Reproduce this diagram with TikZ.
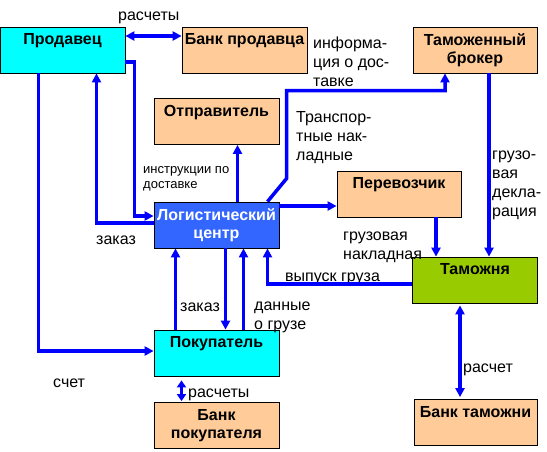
\documentclass[tikz,border=0pt]{standalone}
\usepackage{fontspec}
\setmainfont{Liberation Sans}
\usetikzlibrary{arrows.meta}
\definecolor{boxCyan}{HTML}{00FFFF}
\definecolor{boxPeach}{HTML}{FFCC99}
\definecolor{boxBlue}{HTML}{3366FF}
\definecolor{boxGreen}{HTML}{99CC00}
\definecolor{flowBlue}{HTML}{0000FF}
\tikzset{
  unit/.style={draw=black, line width=0.8pt, minimum width=125pt, minimum height=46pt, inner sep=0pt},
  caption/.style={font=\fontsize{16}{18}\selectfont\bfseries, align=center, anchor=north, inner sep=0pt, yshift=-7pt},
  flow/.style={draw=flowBlue, line width=3.5pt, -{Triangle[length=9pt,width=9pt]}},
  both/.style={flow, {Triangle[length=9pt,width=9pt]}-{Triangle[length=9pt,width=9pt]}},
  shortBoth/.style={flow, {Triangle[length=7pt,width=9pt]}-{Triangle[length=7pt,width=9pt]}},
  note/.style={font=\fontsize{16}{19}\selectfont, align=left, anchor=base west, inner sep=0pt}
}
\begin{document}
\begin{tikzpicture}[x=1pt, y=-1pt]
    \useasboundingbox (0,0) rectangle (547,451);
    \node[unit, fill=boxCyan, label={[caption]north:Продавец}] (seller) at (62.5,50) {};
    \node[unit, fill=boxPeach, label={[caption]north:Банк продавца}] (sellerBank) at (244.5,50) {};
    \node[unit, fill=boxPeach, minimum width=124pt, label={[caption]north:Таможенный\\брокер}] (broker) at (475,50) {};
    \node[unit, fill=boxPeach, label={[caption]north:Отправитель}] (shipper) at (216.5,121.5) {};
    \node[unit, fill=boxBlue, label={[caption, text=white]north:Логистический\\центр}] (logCenter) at (216.5,225) {};
    \node[unit, fill=boxPeach, minimum width=124pt, label={[caption]north:Перевозчик}] (carrier) at (399,194) {};
    \node[unit, fill=boxGreen, label={[caption]north:Таможня}] (customs) at (475,280) {};
    \node[unit, fill=boxCyan, label={[caption]north:Покупатель}] (buyer) at (216.5,353) {};
    \node[unit, fill=boxPeach, label={[caption]north:Банк\\покупателя}] (buyerBank) at (216.5,425.5) {};
    \node[unit, fill=boxPeach, minimum width=123pt, label={[caption]north:Банк таможни}] (customsBank) at (475.5,422.5) {};
    \node[note] (paySeller) at (118,20) {расчеты};
    \node[note] (deliveryInfo) at (313,86) {информа-\\ция о дос-\\тавке};
    \node[note] (waybills) at (296,160) {Транспор-\\тные нак-\\ладные};
    \node[note, font=\fontsize{13}{15}\selectfont] (instructions) at (143,188) {инструкции по\\доставке};
    \node[note] (orderSeller) at (96,244) {заказ};
    \node[note] (cargoWaybill) at (343,259) {грузовая\\накладная};
    \node[note] (declaration) at (492,216) {грузо-\\вая\\декла-\\рация};
    \node[note] (release) at (285,281) {выпуск груза};
    \node[note] (orderBuyer) at (180,311) {заказ};
    \node[note] (cargoData) at (254,329) {данные\\о грузе};
    \node[note] (invoice) at (53,387) {счет};
    \node[note] (payBuyer) at (188,397) {расчеты};
    \node[note] (payCustoms) at (463,372) {расчет};
    \draw[both] ([yshift=14pt]seller.east) -- ([yshift=14pt]sellerBank.west);
    \draw[flow] ([yshift=-12pt]seller.east) -- ++(9,0) |- ([yshift=9pt]logCenter.west);
    \draw[flow] ([yshift=2pt]logCenter.west) -| ([xshift=34pt]seller.south);
    \draw[flow] ([xshift=-24pt]seller.south) |- ([yshift=2pt]buyer.west);
    \draw[flow] ([xshift=21pt]logCenter.north) -- ([xshift=21pt]shipper.south);
    \draw[flow] ([xshift=51pt]logCenter.north) -- ++(19,-23) -- ++(0,-88) -| ([xshift=-30pt]broker.south);
    \draw[flow] ([yshift=19pt]logCenter.east) -- ([yshift=-12pt]carrier.west);
    \draw[flow] ([xshift=37pt]carrier.south) -- ([xshift=-39pt]customs.north);
    \draw[flow] ([xshift=14pt]broker.south) -- ([xshift=14pt]customs.north);
    \draw[flow] ([yshift=-4pt]customs.west) -| ([xshift=51pt]logCenter.south);
    \draw[flow] ([xshift=-41pt]buyer.north) -- ([xshift=-41pt]logCenter.south);
    \draw[flow] ([xshift=9pt]logCenter.south) -- ([xshift=9pt]buyer.north);
    \draw[flow] ([xshift=27pt]buyer.north) -- ([xshift=27pt]logCenter.south);
    \draw[shortBoth] ([xshift=-35pt,yshift=-4pt]buyer.south) -- ([xshift=-35pt,yshift=1pt]buyerBank.north);
    \draw[both] ([xshift=-15pt,yshift=-2pt]customs.south) -- ([xshift=-15.5pt,yshift=2pt]customsBank.north);
\end{tikzpicture}
\end{document}
